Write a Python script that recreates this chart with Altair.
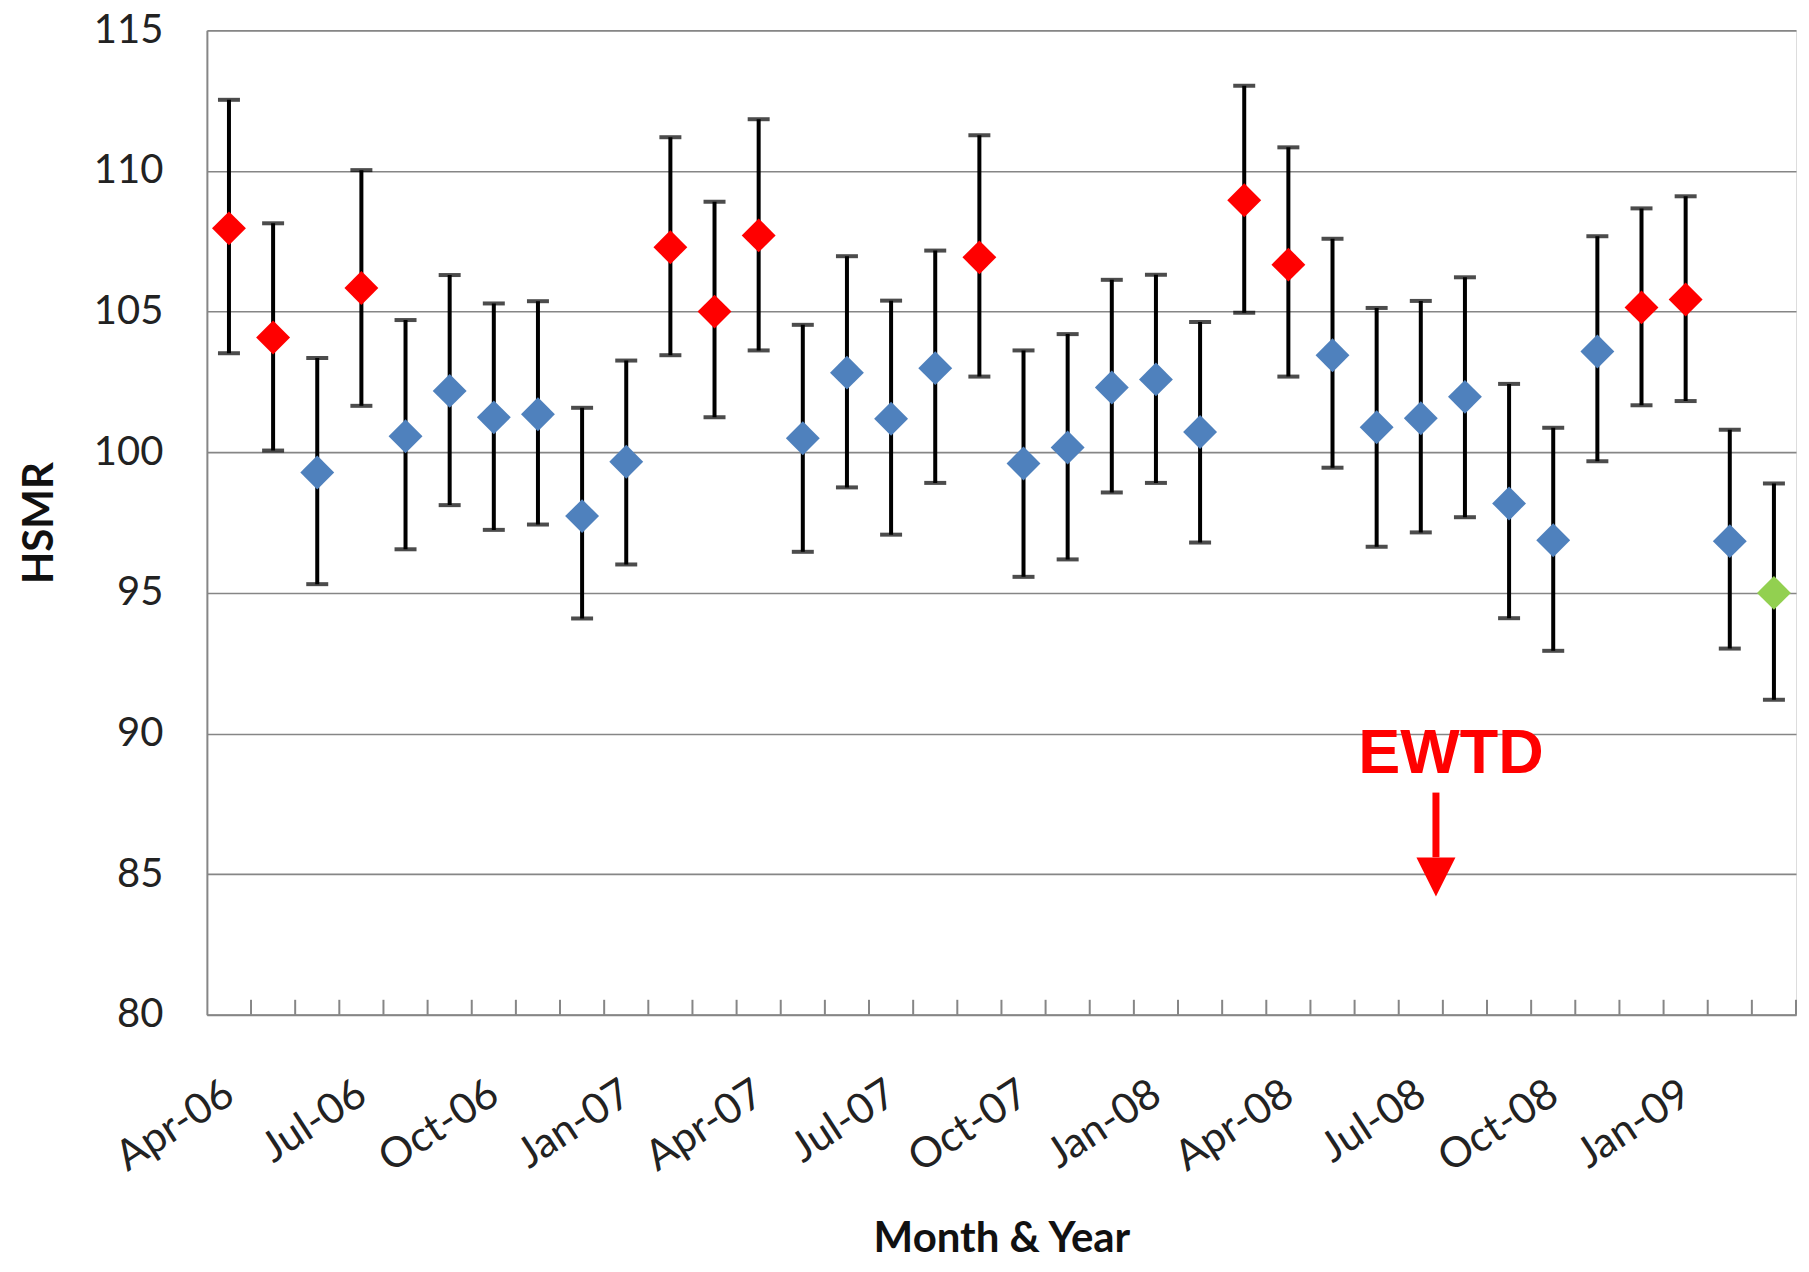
import altair as alt
import pandas as pd

months = ["Apr-06", "May-06", "Jun-06", "Jul-06", "Aug-06", "Sep-06", "Oct-06", "Nov-06", "Dec-06",
          "Jan-07", "Feb-07", "Mar-07", "Apr-07", "May-07", "Jun-07", "Jul-07", "Aug-07", "Sep-07",
          "Oct-07", "Nov-07", "Dec-07", "Jan-08", "Feb-08", "Mar-08", "Apr-08", "May-08", "Jun-08",
          "Jul-08", "Aug-08", "Sep-08", "Oct-08", "Nov-08", "Dec-08", "Jan-09", "Feb-09", "Mar-09"]
hsmr = [107.96, 104.08, 99.28, 105.84, 100.57, 102.18, 101.24, 101.35, 97.73,
        99.66, 107.29, 105.0, 107.71, 100.5, 102.83, 101.19, 102.99, 106.93,
        99.6, 100.17, 102.3, 102.59, 100.72, 108.96, 106.67, 103.45, 100.89,
        101.21, 101.97, 98.18, 96.87, 103.58, 105.15, 105.43, 96.84, 95.0]
upper = [112.53, 108.14, 103.35, 110.03, 104.7, 106.3, 105.29, 105.37, 101.58,
         103.26, 111.2, 108.91, 111.84, 104.53, 106.97, 105.39, 107.17, 111.27,
         103.62, 104.2, 106.13, 106.31, 104.63, 113.03, 110.84, 107.59, 105.13,
         105.38, 106.22, 102.43, 100.87, 107.68, 108.67, 109.1, 100.8, 98.89]
lower = [103.52, 100.06, 95.31, 101.65, 96.55, 98.12, 97.24, 97.43, 94.09,
         96.01, 103.45, 101.24, 103.62, 96.46, 98.75, 97.07, 98.91, 102.69,
         95.57, 96.19, 98.57, 98.91, 96.79, 104.96, 102.69, 99.45, 96.64,
         97.15, 97.69, 94.1, 92.94, 99.68, 101.67, 101.82, 93.02, 91.2]
status = ["high", "high", "normal", "high", "normal", "normal", "normal", "normal", "normal",
          "normal", "high", "high", "high", "normal", "normal", "normal", "normal", "high",
          "normal", "normal", "normal", "normal", "normal", "high", "high", "normal", "normal",
          "normal", "normal", "normal", "normal", "normal", "high", "high", "normal", "latest"]
label_months = ["Apr-06", "Jul-06", "Oct-06", "Jan-07", "Apr-07", "Jul-07", "Oct-07",
                "Jan-08", "Apr-08", "Jul-08", "Oct-08", "Jan-09"]
y_ticks = [80, 85, 90, 95, 100, 105, 110, 115]

status_domain = ["high", "normal", "latest"]
status_colors = ["#FF0000", "#4F81BD", "#92D050"]

annot_text = ["EWTD"]

W, H = 1590, 985
BAND = W / len(months)
FONT = "Lato"
GRAY = "#868686"

df = pd.DataFrame({"month": months, "hsmr": hsmr, "upper": upper, "lower": lower, "status": status})

xenc = alt.X("month:N", sort=months,
             scale=alt.Scale(type="band", domain=months, paddingInner=0, paddingOuter=0),
             axis=alt.Axis(values=label_months, title="Month & Year", labelAngle=-33,
                           labelAlign="right", labelBaseline="top", labelOffset=-10,
                           labelPadding=58, ticks=False, grid=False, domainColor=GRAY,
                           domainWidth=2, labelFont=FONT, labelFontSize=42, labelColor="#222222",
                           titleFont=FONT, titleFontSize=42, titleFontWeight="bold",
                           titleColor="#111111", titleX=W / 2, titleY=224,
                           titleBaseline="middle", titleAlign="center"))
yscale = alt.Scale(domain=[80, 115], nice=False, zero=False)
yaxis = alt.Axis(values=y_ticks, title="HSMR", ticks=False, grid=True, gridColor=GRAY,
                 gridWidth=1.6, domainColor=GRAY, domainWidth=2, labelPadding=44,
                 labelFont=FONT, labelFontSize=40, labelColor="#222222",
                 titleFont=FONT, titleFontSize=42, titleFontWeight="bold", titleColor="#111111",
                 titleX=-145, titleY=H / 2, titleAngle=270, titleBaseline="bottom",
                 titleAlign="center")

base = alt.Chart(df)

bars = base.mark_rule(color="black", strokeWidth=4).encode(
    x=xenc,
    y=alt.Y("lower:Q", scale=yscale, axis=yaxis),
    y2="upper:Q",
)
cap_hi = base.mark_tick(color="black", thickness=4, size=22).encode(
    x=alt.X("month:N", sort=months), y=alt.Y("upper:Q"))
cap_lo = base.mark_tick(color="black", thickness=4, size=22).encode(
    x=alt.X("month:N", sort=months), y=alt.Y("lower:Q"))
points = base.mark_point(shape="diamond", filled=True, size=1150, opacity=1,
                         strokeWidth=1).encode(
    x=alt.X("month:N", sort=months),
    y=alt.Y("hsmr:Q"),
    color=alt.Color("status:N", scale=alt.Scale(domain=status_domain, range=status_colors),
                    legend=None),
)
ticks = base.mark_rule(color=GRAY, strokeWidth=2, xOffset=BAND / 2).encode(
    x=alt.X("month:N", sort=months),
    y=alt.value(H - 15),
    y2=alt.value(H),
)

annot_df = pd.DataFrame({"text": annot_text, "month": ["Aug-08"], "ty": [88.6],
                         "a0": [87.9], "a1": [85.6], "head": [84.9]})
ann = alt.Chart(annot_df)
ewtd = ann.mark_text(color="#FF0000", font="Liberation Sans", fontSize=63, fontWeight="bold",
                     align="center", baseline="alphabetic", dx=-14).encode(
    x=alt.X("month:N", sort=months), y=alt.Y("ty:Q"), text="text:N")
shaft = ann.mark_rule(color="#FF0000", strokeWidth=7, xOffset=-29).encode(
    x=alt.X("month:N", sort=months), y=alt.Y("a0:Q"), y2="a1:Q")
head = ann.mark_point(shape="M-1,-1L1,-1L0,1Z", filled=True, size=1521, color="#FF0000",
                      opacity=1, xOffset=-29).encode(
    x=alt.X("month:N", sort=months), y=alt.Y("head:Q"))

chart = alt.layer(ticks, bars, cap_hi, cap_lo, points, shaft, head, ewtd).properties(
    width=W, height=H,
    autosize=alt.AutoSizeParams(type="none"),
    padding={"left": 199, "top": 22, "right": 5, "bottom": 249},
).configure_view(stroke=None).configure(background="white")

chart.save("out.html", embed_options={"renderer": "svg", "actions": False})
